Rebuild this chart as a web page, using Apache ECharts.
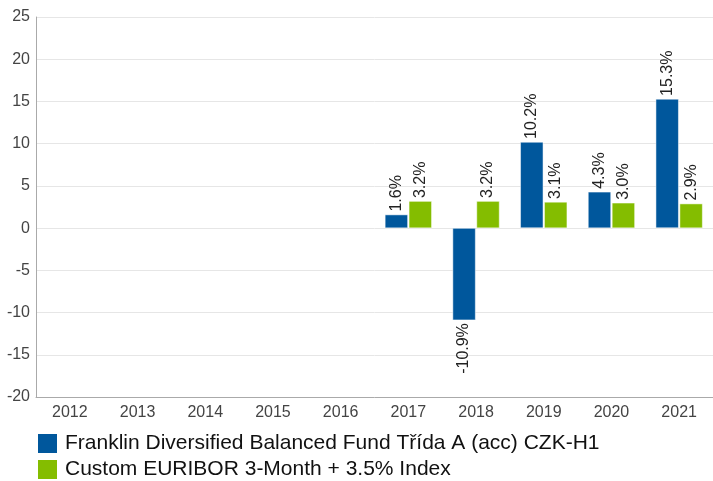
<!DOCTYPE html>
<html>
<head>
<meta charset="utf-8">
<script src="https://cdn.jsdelivr.net/npm/echarts@6/dist/echarts.min.js"></script>
<style>
  html, body { margin: 0; padding: 0; background: #fff; }
  #chart { width: 713px; height: 481px; }
</style>
</head>
<body>
<div id="chart"></div>
<script>
var years = ['2012', '2013', '2014', '2015', '2016', '2017', '2018', '2019', '2020', '2021'];
var fundName = 'Franklin Diversified Balanced Fund Třída A (acc) CZK-H1';
var indexName = 'Custom EURIBOR 3-Month + 3.5% Index';
var fundValues = [null, null, null, null, null, 1.6, -10.9, 10.2, 4.3, 15.3];
var indexValues = [null, null, null, null, null, 3.2, 3.2, 3.1, 3.0, 2.9];

var chart = echarts.init(document.getElementById('chart'));

// negative bars get their label under the bar
function toItems(arr) {
    return arr.map(function (v) {
        if (v === null) return '-';
        if (v < 0) {
            return {
                value: v,
                label: { position: 'bottom', align: 'right' }
            };
        }
        return v;
    });
}

var labelStyle = {
    show: true,
    position: 'top',
    rotate: 90,
    align: 'left',
    verticalAlign: 'middle',
    distance: 3,
    fontSize: 16,
    color: '#222',
    fontFamily: 'Liberation Sans, Arial, sans-serif',
    formatter: function (p) { return p.value.toFixed(1) + '%'; }
};

function legendRow(name, top) {
    return {
        left: 36,
        top: top,
        padding: 0,
        icon: 'rect',
        itemWidth: 21,
        itemHeight: 21,
        textStyle: { fontSize: 21, color: '#111', padding: [0, 0, 0, 2] },
        data: [name]
    };
}

chart.setOption({
    animation: false,
    textStyle: { fontFamily: 'Liberation Sans, Arial, sans-serif' },
    grid: {
        left: 36,
        right: 0,
        top: 17,
        bottom: 84
    },
    legend: [
        legendRow(fundName, 432),
        legendRow(indexName, 458)
    ],
    xAxis: {
        type: 'category',
        data: years,
        axisLine: { onZero: false, lineStyle: { color: '#aaa' } },
        axisTick: { show: false },
        axisLabel: { fontSize: 16, color: '#444', margin: 8 }
    },
    yAxis: {
        type: 'value',
        min: -20,
        max: 25,
        interval: 5,
        axisLine: { show: true, lineStyle: { color: '#aaa' } },
        axisTick: { show: false },
        axisLabel: { fontSize: 16, color: '#444', margin: 6 },
        splitLine: { lineStyle: { color: '#e6e6e6' } }
    },
    series: [
        {
            name: fundName,
            type: 'bar',
            data: toItems(fundValues),
            barWidth: 23,
            barGap: '4%',
            itemStyle: { color: '#00579c', borderColor: '#fff', borderWidth: 0.5 },
            label: labelStyle
        },
        {
            name: indexName,
            type: 'bar',
            data: toItems(indexValues),
            barWidth: 23,
            itemStyle: { color: '#84bd00', borderColor: '#fff', borderWidth: 0.5 },
            label: labelStyle
        }
    ]
});
</script>
</body>
</html>
